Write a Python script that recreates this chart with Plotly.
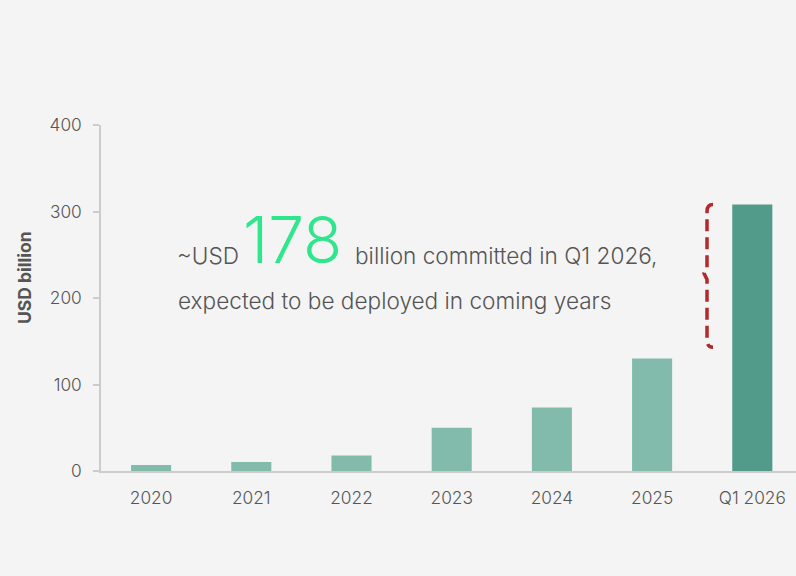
import plotly.graph_objects as go

categories = ["2020", "2021", "2022", "2023", "2024", "2025", "Q1 2026"]
values = [7, 10.5, 18, 50, 73.5, 130, 308]
bar_colors = ["#82bbab"] * 6 + ["#529a8a"]
y_ticks = [0, 100, 200, 300, 400]
committed = 178

W, H = 796, 576
L, R, T, B = 101, 0, 125, 105
PW, PH = W - L - R, H - T - B

def px(x):
    return (x - L) / PW

def py(y):
    return (H - B - y) / PH

fig = go.Figure()
fig.add_trace(go.Bar(
    x=categories, y=values, width=0.4,
    marker=dict(color=bar_colors, line=dict(width=0)),
    hoverinfo="skip",
))

font = "Inter, Roboto, sans-serif"
gray = "#555555"

fig.update_layout(
    width=W, height=H,
    margin=dict(l=L, r=R, t=T, b=B, pad=0),
    paper_bgcolor="#f4f4f4", plot_bgcolor="#f4f4f4",
    showlegend=False,
    font=dict(family=font, color=gray),
    xaxis=dict(
        type="category", range=[-0.5, -0.5 + PW / 100.2],
        showline=True, linecolor="#cccccc", linewidth=1.5,
        showgrid=False, zeroline=False, ticks="",
        tickfont=dict(size=17.3, color=gray, family=font, weight=300),
        ticklabelstandoff=10,
    ),
    yaxis=dict(
        range=[0, 400], tickvals=y_ticks,
        showline=True, linecolor="#cccccc", linewidth=1.5,
        showgrid=False, zeroline=False,
        ticks="outside", ticklen=6, tickcolor="#cccccc", tickwidth=1.5,
        tickfont=dict(size=17.3, color=gray, family=font, weight=300),
        ticklabelstandoff=8,
    ),
)

# y-axis title
fig.add_annotation(
    text="<b>USD billion</b>", xref="paper", yref="paper",
    x=px(24), y=py(278), textangle=-90, showarrow=False,
    xanchor="center", yanchor="middle",
    font=dict(size=17.5, color=gray, family=font),
)

# headline text
fig.add_annotation(
    text="~USD", xref="paper", yref="paper", x=px(175), y=py(271),
    xanchor="left", yanchor="bottom", showarrow=False,
    font=dict(size=22.6, color=gray, family=font, weight=300),
)
fig.add_annotation(
    text=str(committed), xref="paper", yref="paper", x=px(241), y=py(280),
    xanchor="left", yanchor="bottom", showarrow=False,
    font=dict(size=64, color="#2ee68c", family=font, weight=300),
)
fig.add_annotation(
    text="billion committed in Q1 2026,", xref="paper", yref="paper", x=px(353), y=py(271),
    xanchor="left", yanchor="bottom", showarrow=False,
    font=dict(size=22.6, color=gray, family=font, weight=300),
)
fig.add_annotation(
    text="expected to be deployed in coming years", xref="paper", yref="paper",
    x=px(176), y=py(316),
    xanchor="left", yanchor="bottom", showarrow=False,
    font=dict(size=22.6, color=gray, family=font, weight=300),
)

# dashed brace from 2025 level up to Q1 2026 level
y_top = values[6]
y_bot = values[5] + 13
y_mid = (y_top + y_bot) / 2 + 3
xl, xr, xm = px(707), px(713), px(704)
c = 8
path = (f"M {xr},{y_top} Q {xl},{y_top} {xl},{y_top - c} "
        f"L {xl},{y_mid + 7} L {xm},{y_mid} L {xl},{y_mid - 7} "
        f"L {xl},{y_bot + c} Q {xl},{y_bot} {xr},{y_bot}")
fig.add_shape(
    type="path", path=path, xref="paper", yref="y",
    line=dict(color="#b3282d", width=3.5, dash="12px,6px"),
)

fig.write_html("out.html")
